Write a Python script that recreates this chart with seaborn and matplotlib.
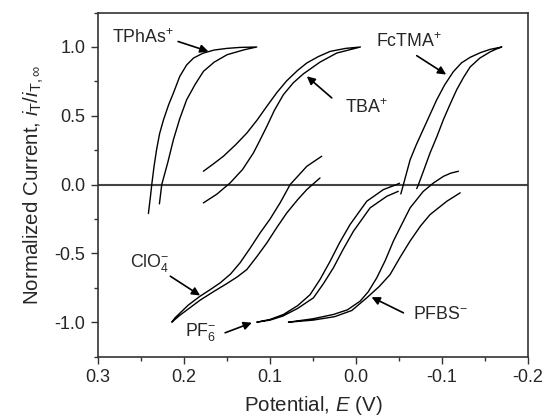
import pandas as pd
import matplotlib
matplotlib.use("Agg")
import matplotlib.pyplot as plt
from matplotlib.ticker import MultipleLocator
import seaborn as sns

# loops: each path goes end -> turning point -> other end
tphas_E = [0.2415, 0.239, 0.2376, 0.235, 0.232, 0.2285, 0.224, 0.218, 0.2124, 0.205, 0.197, 0.189, 0.178, 0.165, 0.150, 0.135, 0.1155,
           0.13, 0.150, 0.165, 0.1775, 0.187, 0.197, 0.205, 0.2124, 0.219, 0.226, 0.2287]
tphas_I = [-0.21, -0.08, 0.0, 0.13, 0.254, 0.37, 0.47, 0.58, 0.666, 0.787, 0.87, 0.92, 0.955, 0.978, 0.99, 0.997, 1.0,
           0.98, 0.944, 0.89, 0.823, 0.73, 0.617, 0.48, 0.327, 0.16, 0.0, -0.14]

tba_E = [0.1776, 0.166, 0.1543, 0.140, 0.127, 0.115, 0.1038, 0.092, 0.0806, 0.068, 0.0573, 0.044, 0.0302, 0.012, -0.005,
         0.0225, 0.042, 0.0613, 0.073, 0.0845, 0.095, 0.1038, 0.112, 0.1194, 0.132, 0.1465, 0.162, 0.1776]
tba_I = [0.097, 0.15, 0.206, 0.29, 0.375, 0.47, 0.569, 0.67, 0.755, 0.83, 0.884, 0.93, 0.968, 0.99, 1.0,
         0.956, 0.89, 0.805, 0.74, 0.654, 0.54, 0.423, 0.32, 0.23, 0.11, 0.012, -0.07, -0.133]

fctma_E = [-0.052, -0.055, -0.0628, -0.070, -0.078, -0.086, -0.0938, -0.103, -0.113, -0.1226, -0.1326, -0.145, -0.156, -0.1694,
           -0.163, -0.156, -0.144, -0.1326, -0.125, -0.117, -0.109, -0.1015, -0.094, -0.086, -0.079, -0.0725, -0.0705]
fctma_I = [-0.068, 0.0, 0.18, 0.29, 0.40, 0.51, 0.617, 0.725, 0.82, 0.885, 0.925, 0.96, 0.983, 1.0,
           0.985, 0.965, 0.92, 0.855, 0.78, 0.69, 0.58, 0.472, 0.35, 0.23, 0.11, 0.0, -0.029]

clo4_E = [0.040, 0.0573, 0.0767, 0.0884, 0.100, 0.1116, 0.123, 0.135, 0.146, 0.158, 0.170, 0.1814, 0.195, 0.2105, 0.2143,
          0.205, 0.1814, 0.165, 0.1504, 0.138, 0.127, 0.115, 0.1038, 0.092, 0.0806, 0.068, 0.0573, 0.042]
clo4_I = [0.206, 0.133, 0.0, -0.133, -0.25, -0.351, -0.46, -0.569, -0.65, -0.714, -0.765, -0.811, -0.875, -0.968, -1.0,
          -0.95, -0.84, -0.775, -0.72, -0.67, -0.617, -0.52, -0.424, -0.31, -0.206, -0.11, -0.036, 0.048]

pf6_E = [-0.0504, -0.047, -0.0318, -0.0124, 0.007, 0.019, 0.0302, 0.042, 0.0535, 0.068, 0.0845, 0.100, 0.1155,
         0.100, 0.085, 0.068, 0.0496, 0.038, 0.0264, 0.015, 0.0031, -0.0163, -0.0357, -0.049]
pf6_I = [0.01, 0.0, -0.036, -0.121, -0.29, -0.42, -0.557, -0.69, -0.80, -0.88, -0.944, -0.98, -1.0,
         -0.985, -0.955, -0.90, -0.823, -0.72, -0.605, -0.47, -0.339, -0.169, -0.085, -0.049]

pfbs_E = [-0.119, -0.110, -0.1016, -0.09, -0.078, -0.0705, -0.0628, -0.053, -0.0434, -0.034, -0.024, -0.014, -0.0047, 0.010, 0.0264, 0.050, 0.0787,
          0.050, 0.025, 0.005, -0.0124, -0.027, -0.0395, -0.051, -0.0628, -0.075, -0.086, -0.1055, -0.121]
pfbs_I = [0.097, 0.083, 0.06, 0.012, -0.05, -0.109, -0.169, -0.29, -0.41, -0.55, -0.678, -0.78, -0.847, -0.91, -0.944, -0.975, -1.0,
          -0.985, -0.96, -0.915, -0.823, -0.74, -0.654, -0.53, -0.41, -0.30, -0.218, -0.121, -0.06]

loops = {
    "TPhAs": (tphas_E, tphas_I),
    "TBA": (tba_E, tba_I),
    "FcTMA": (fctma_E, fctma_I),
    "ClO4": (clo4_E, clo4_I),
    "PF6": (pf6_E, pf6_I),
    "PFBS": (pfbs_E, pfbs_I),
}

frames = []
for name, (e, i) in loops.items():
    frames.append(pd.DataFrame({"E": e, "I": i, "ion": name, "step": range(len(e))}))
df = pd.concat(frames, ignore_index=True)

# labels: text, text position, arrow tail, arrow head
labels = [
    ("TPhAs$^{+}$", (0.2477, 1.067), (0.207, 1.04), (0.1717, 0.968)),
    ("TBA$^{+}$", (-0.012, 0.56), (0.0283, 0.63), (0.0573, 0.787)),
    ("FcTMA$^{+}$", (-0.062, 1.04), (-0.0705, 0.937), (-0.1047, 0.80)),
    ("ClO$_{4}^{-}$", (0.2395, -0.57), (0.216, -0.666), (0.1814, -0.806)),
    ("PF$_{6}^{-}$", (0.181, -1.07), (0.1523, -1.077), (0.1213, -1.004)),
    ("PFBS$^{-}$", (-0.098, -0.944), (-0.055, -0.932), (-0.018, -0.818)),
]

sns.set_style("ticks")
plt.rcParams["font.family"] = ["Liberation Sans", "DejaVu Sans"]
plt.rcParams["mathtext.fontset"] = "custom"
plt.rcParams["mathtext.rm"] = "Liberation Sans"
plt.rcParams["mathtext.it"] = "Liberation Sans:italic"
plt.rcParams["mathtext.default"] = "regular"

fig = plt.figure(figsize=(5.45, 4.2), dpi=100)
ax = fig.add_axes([0.18, 0.151, 0.789, 0.819])

ax.axhline(0, color="#444444", lw=1.5, zorder=1)
sns.lineplot(data=df, x="E", y="I", units="ion", estimator=None, sort=False,
             color="black", lw=1.0, ax=ax, zorder=2)

for text, tpos, tail, head in labels:
    ax.text(tpos[0], tpos[1], text, ha="center", va="center", fontsize=12.8)
    ax.annotate("", xy=head, xytext=tail,
                arrowprops=dict(arrowstyle="-|>", color="black", lw=1.2,
                                mutation_scale=12, shrinkA=0, shrinkB=0))

ax.set_xlim(0.3, -0.2)
ax.set_ylim(-1.25, 1.25)
ax.xaxis.set_minor_locator(MultipleLocator(0.05))
ax.yaxis.set_minor_locator(MultipleLocator(0.25))
ax.set_xticks([0.3, 0.2, 0.1, 0.0, -0.1, -0.2])
ax.set_xticklabels(["0.3", "0.2", "0.1", "0.0", "-0.1", "-0.2"])
ax.set_yticks([-1.0, -0.5, 0.0, 0.5, 1.0])
ax.set_yticklabels(["-1.0", "-0.5", "0.0", "0.5", "1.0"])
ax.tick_params(which="major", direction="out", length=5, width=1.0, labelsize=13,
               color="#333333", top=False, right=False, pad=4)
ax.tick_params(which="minor", direction="out", length=3, width=1.0,
               color="#333333", top=False, right=False)

for sp in ax.spines.values():
    sp.set_visible(True)
    sp.set_color("#333333")
    sp.set_linewidth(1.2)

ax.set_xlabel("Potential, $\\mathit{E}$ (V)", fontsize=14.8, labelpad=6)
ax.set_ylabel("Normalized Current, $\\mathit{i}_{\\mathrm{T}}/\\mathit{i}_{\\mathrm{T},\\infty}$",
              fontsize=14.8, labelpad=6)

fig.savefig("out.png", dpi=100)
